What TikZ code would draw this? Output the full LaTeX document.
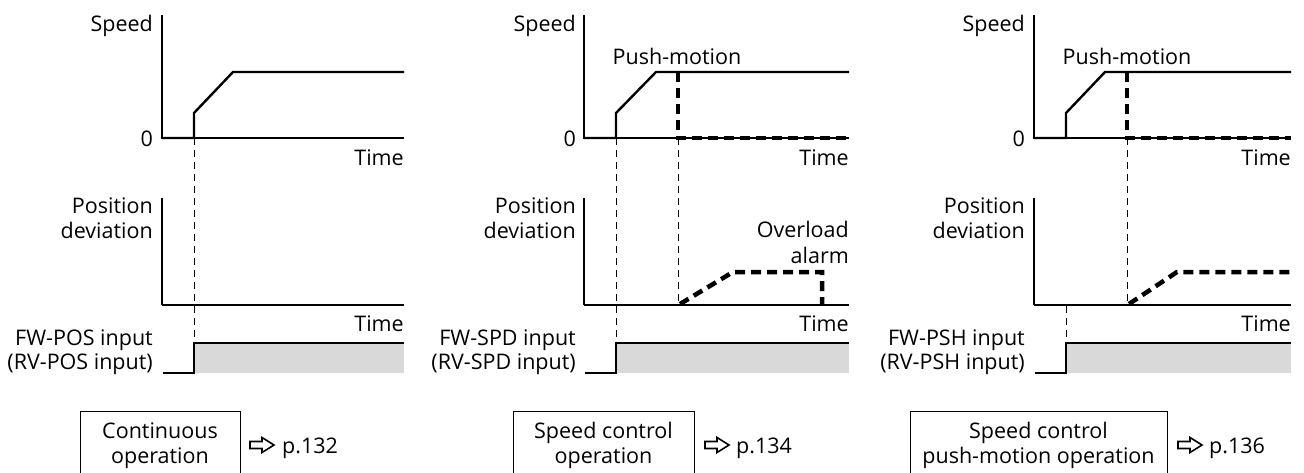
\documentclass[tikz,border=0pt]{standalone}
\usepackage{fontspec}
\setmainfont{Open Sans}
\begin{document}
\begin{tikzpicture}[x=1pt,y=-1pt,
  font=\fontsize{21.5}{25}\selectfont,
  axis/.style={line width=1.2pt},
  prof/.style={line width=2.4pt, line join=miter},
  thickdash/.style={line width=4.5pt, dash pattern=on 10pt off 6pt},
  thindash/.style={line width=0.9pt, dash pattern=on 7pt off 5pt},
  lbl/.style={anchor=base east, inner sep=0pt},
  ctr/.style={anchor=base, inner sep=0pt},
  lft/.style={anchor=base west, inner sep=0pt},
  opbox/.style={draw, line width=1pt},
  hollowarrow/.style={draw, line width=1.6pt, line join=miter},
  infill/.style={fill=gray!30!white, draw=none}]
\useasboundingbox (0,0) rectangle (1304,472);

% ================= Panel 1 =================
\coordinate (a1t) at (162,15);
\coordinate (a1o) at (162,138);
\coordinate (a1e) at (404,138);
\draw[axis] (a1t) -- (a1o) -- (a1e);
\draw[prof] (a1o) -- (194,138) -- (194,113) -- (233,72) -- (404,72);
\node[lbl] (sp1) at (153,31) {Speed};
\node[lbl] (z1) at (153,146) {0};
\node[lbl] (t1) at (404,165) {Time};
% position deviation
\coordinate (b1t) at (162,198);
\coordinate (b1o) at (162,305);
\coordinate (b1e) at (404,305);
\draw[axis] (b1t) -- (b1o);
\draw[prof] (b1o) -- (b1e);
\node[lbl] (pd1a) at (153,213) {Position};
\node[lbl] (pd1b) at (153,238) {deviation};
\node[lbl] (t1b) at (404,331) {Time};
% input
\fill[infill] (194,344) rectangle (404,373);
\draw[line width=1.2pt] (163,373) -- (194,373) -- (194,343) -- (404,343);
\node[lbl] (in1a) at (153,345) {FW-POS input};
\node[lbl] (in1b) at (153,369) {(RV-POS input)};
\draw[thindash] (194,138) -- (194,343);
% box
\draw[opbox] (80,411) rectangle (240,475);
\node[ctr] (op1a) at (160,438) {Continuous};
\node[ctr] (op1b) at (160,463) {operation};
\draw[hollowarrow] (250,441.5) -- (262,441.5) -- (262,437.5) -- (274,445) -- (262,452.5) -- (262,448.5) -- (250,448.5) -- cycle;
\node[lft] (pg1) at (282,453) {p.132};

% ================= Panel 2 =================
\coordinate (a2t) at (584,15);
\coordinate (a2o) at (584,138);
\coordinate (a2e) at (849,138);
\draw[axis] (a2t) -- (a2o) -- (a2e);
\draw[prof] (a2o) -- (616,138) -- (616,113) -- (656,72) -- (849,72);
\draw[thickdash] (678,72) -- (678,138) -- (849,138);
\node[lbl] (sp2) at (576,31) {Speed};
\node[lbl] (z2) at (576,146) {0};
\node[lbl] (t2) at (849,165) {Time};
\node[ctr] (pm2) at (677,64) {Push-motion};
% position deviation
\draw[axis] (584,198) -- (584,305);
\draw[prof] (584,305) -- (849,305);
\draw[thickdash] (680,304) -- (733,272) -- (822,272) -- (822,305);
\node[lbl] (pd2a) at (576,213) {Position};
\node[lbl] (pd2b) at (576,238) {deviation};
\node[lbl] (ov2a) at (849,237) {Overload};
\node[lbl] (ov2b) at (849,263) {alarm};
\node[lbl] (t2b) at (849,331) {Time};
% input
\fill[infill] (616,344) rectangle (849,373);
\draw[line width=1.2pt] (585,373) -- (616,373) -- (616,343) -- (849,343);
\node[lbl] (in2a) at (576,345) {FW-SPD input};
\node[lbl] (in2b) at (576,369) {(RV-SPD input)};
\draw[thindash] (616,138) -- (616,343);
\draw[thindash] (678,138) -- (678,305);
% box
\draw[opbox] (513,411) rectangle (694,475);
\node[ctr] (op2a) at (603.5,438) {Speed control};
\node[ctr] (op2b) at (603.5,463) {operation};
\draw[hollowarrow] (705,441.5) -- (717,441.5) -- (717,437.5) -- (729,445) -- (717,452.5) -- (717,448.5) -- (705,448.5) -- cycle;
\node[lft] (pg2) at (736,453) {p.134};

% ================= Panel 3 =================
\coordinate (a3t) at (1034,15);
\coordinate (a3o) at (1034,138);
\coordinate (a3e) at (1291,138);
\draw[axis] (a3t) -- (a3o) -- (a3e);
\draw[prof] (a3o) -- (1066,138) -- (1066,113) -- (1105,72) -- (1291,72);
\draw[thickdash] (1127,72) -- (1127,138) -- (1291,138);
\node[lbl] (sp3) at (1025,31) {Speed};
\node[lbl] (z3) at (1025,146) {0};
\node[lbl] (t3) at (1291,165) {Time};
\node[ctr] (pm3) at (1127,64) {Push-motion};
% position deviation
\draw[axis] (1034,198) -- (1034,305);
\draw[prof] (1034,305) -- (1291,305);
\draw[thickdash] (1129,304) -- (1177,272) -- (1291,272);
\node[lbl] (pd3a) at (1025,213) {Position};
\node[lbl] (pd3b) at (1025,238) {deviation};
\node[lbl] (t3b) at (1291,331) {Time};
% input
\fill[infill] (1066,344) rectangle (1291,373);
\draw[line width=1.2pt] (1035,373) -- (1066,373) -- (1066,343) -- (1291,343);
\node[lbl] (in3a) at (1025,345) {FW-PSH input};
\node[lbl] (in3b) at (1025,369) {(RV-PSH input)};
\draw[thindash] (1066,306) -- (1066,343);
\draw[thindash] (1127,138) -- (1127,305);
% box
\draw[opbox] (910,411) rectangle (1167,475);
\node[ctr] (op3a) at (1038.5,438) {Speed control};
\node[ctr] (op3b) at (1038.5,463) {push-motion operation};
\draw[hollowarrow] (1178,441.5) -- (1190,441.5) -- (1190,437.5) -- (1202,445) -- (1190,452.5) -- (1190,448.5) -- (1178,448.5) -- cycle;
\node[lft] (pg3) at (1209,453) {p.136};
\end{tikzpicture}
\end{document}
